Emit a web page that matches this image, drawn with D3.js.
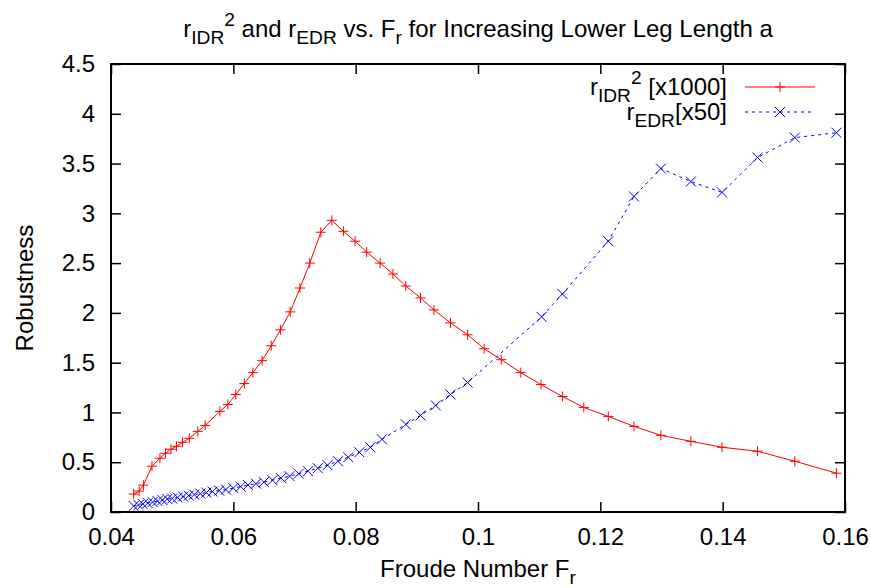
<!DOCTYPE html>
<html lang="en">
<head>
    <meta charset="UTF-8">
    <title>Robustness vs Froude Number</title>
    <script src="https://d3js.org/d3.v7.min.js"></script>
    <style>
        body { margin: 0; background: #fff; }
        text { font-family: "Liberation Sans", Arial, sans-serif; fill: #000; }
    </style>
</head>
<body>
    <div id="chart"></div>
    <script>
        // r_IDR^2 [x1000] series
        const idrF = [0.0437, 0.0446, 0.0453, 0.0467, 0.0480, 0.0489, 0.0498, 0.0507, 0.0517, 0.0528,
                      0.0542, 0.0554, 0.0578, 0.0591, 0.0604, 0.0618, 0.0632, 0.0647, 0.0662, 0.0677,
                      0.0693, 0.0709, 0.0725, 0.0743, 0.0761, 0.0780, 0.0799, 0.0818, 0.0840, 0.0861,
                      0.0882, 0.0906, 0.0928, 0.0955, 0.0983, 0.1010, 0.1038, 0.1070, 0.1103, 0.1138,
                      0.1173, 0.1213, 0.1255, 0.1299, 0.1348, 0.1399, 0.1457, 0.1518, 0.1586];
        const idrV = [0.18, 0.21, 0.27, 0.46, 0.54, 0.59, 0.63, 0.66, 0.70, 0.74,
                      0.81, 0.87, 1.01, 1.08, 1.18, 1.29, 1.40, 1.52, 1.67, 1.83,
                      2.01, 2.25, 2.50, 2.81, 2.93, 2.82, 2.72, 2.61, 2.50, 2.39,
                      2.27, 2.15, 2.03, 1.90, 1.78, 1.64, 1.53, 1.40, 1.28, 1.16,
                      1.05, 0.96, 0.86, 0.77, 0.71, 0.65, 0.61, 0.51, 0.39];

        // r_EDR [x50] series
        const edrF = [0.0437, 0.0445, 0.0452, 0.0460, 0.0468, 0.0476, 0.0484, 0.0492, 0.0500, 0.0509,
                      0.0518, 0.0527, 0.0536, 0.0546, 0.0556, 0.0566, 0.0577, 0.0588, 0.0600, 0.0612,
                      0.0624, 0.0637, 0.0650, 0.0664, 0.0678, 0.0692, 0.0707, 0.0722, 0.0738, 0.0754,
                      0.0771, 0.0788, 0.0806, 0.0824, 0.0843, 0.0882, 0.0906, 0.0931, 0.0955, 0.0983,
                      0.1104, 0.1138, 0.1213, 0.1255, 0.1299, 0.1348, 0.1399, 0.1457, 0.1518, 0.1586];
        const edrV = [0.06, 0.07, 0.08, 0.09, 0.10, 0.11, 0.12, 0.13, 0.135, 0.145,
                      0.155, 0.165, 0.175, 0.185, 0.195, 0.205, 0.215, 0.225, 0.24, 0.255,
                      0.27, 0.285, 0.30, 0.32, 0.34, 0.36, 0.385, 0.41, 0.44, 0.47,
                      0.51, 0.55, 0.60, 0.65, 0.73, 0.88, 0.97, 1.07, 1.18, 1.30,
                      1.96, 2.19, 2.72, 3.17, 3.45, 3.32, 3.21, 3.56, 3.76, 3.81];

        const xTicks = [0.04, 0.06, 0.08, 0.1, 0.12, 0.14, 0.16];
        const yTicks = [0, 0.5, 1, 1.5, 2, 2.5, 3, 3.5, 4, 4.5];

        const W = 871, H = 588;
        const margin = {top: 64, right: 26, bottom: 76, left: 111};
        const fs = 24;

        const svg = d3.select("#chart").append("svg")
            .attr("width", W).attr("height", H);

        const x = d3.scaleLinear().domain([0.04, 0.16]).range([margin.left, W - margin.right]);
        const y = d3.scaleLinear().domain([0, 4.5]).range([H - margin.bottom, margin.top]);

        // axes, ticks pointing inward
        const fmt = d => d3.format("")(+d.toFixed(2));
        svg.append("g").attr("transform", `translate(0,${y(0)})`)
            .call(d3.axisBottom(x).tickValues(xTicks).tickSize(-10).tickPadding(16).tickFormat(fmt));
        svg.append("g").attr("transform", `translate(${x(0.04)},0)`)
            .call(d3.axisLeft(y).tickValues(yTicks).tickSize(-10).tickPadding(16).tickFormat(fmt));
        svg.append("g").attr("transform", `translate(0,${y(4.5)})`)
            .call(d3.axisTop(x).tickValues(xTicks).tickSize(-10).tickFormat(""));
        svg.append("g").attr("transform", `translate(${x(0.16)},0)`)
            .call(d3.axisRight(y).tickValues(yTicks).tickSize(-10).tickFormat(""));

        svg.selectAll(".domain").remove();
        svg.selectAll(".tick line").attr("stroke", "#000").attr("stroke-width", 1.5);
        svg.selectAll(".tick text").attr("font-size", fs)
            .attr("font-family", "'Liberation Sans', Arial, sans-serif").attr("fill", "#000");

        // frame
        svg.append("rect")
            .attr("x", x(0.04)).attr("y", y(4.5))
            .attr("width", x(0.16) - x(0.04)).attr("height", y(0) - y(4.5))
            .attr("fill", "none").attr("stroke", "#000").attr("stroke-width", 2);

        // text with sub/superscripts
        function rich(sel, parts, size) {
            let off = 0;
            parts.forEach(([t, kind]) => {
                let target = kind === "sub" ? 0.3 * size : kind === "sup" ? -0.45 * size : 0;
                sel.append("tspan")
                    .attr("dy", target - off)
                    .attr("font-size", kind ? size * 0.8 : size)
                    .text(t);
                off = target;
            });
        }

        const title = svg.append("text")
            .attr("x", (x(0.04) + x(0.16)) / 2).attr("y", 37)
            .attr("text-anchor", "middle");
        rich(title, [["r"], ["IDR", "sub"], ["2", "sup"], [" and r"], ["EDR", "sub"], [" vs. F"], ["r", "sub"],
                     [" for Increasing Lower Leg Length a"]], fs);

        const xl = svg.append("text")
            .attr("x", (x(0.04) + x(0.16)) / 2).attr("y", 577)
            .attr("text-anchor", "middle");
        rich(xl, [["Froude Number F"], ["r", "sub"]], fs);

        svg.append("text")
            .attr("transform", `translate(33,${y(2.25)}) rotate(-90)`)
            .attr("text-anchor", "middle")
            .attr("font-size", fs)
            .text("Robustness");

        // lines
        const idr = idrF.map((f, i) => [f, idrV[i]]);
        const edr = edrF.map((f, i) => [f, edrV[i]]);
        const line = d3.line().x(d => x(d[0])).y(d => y(d[1]));

        svg.append("path").datum(idr).attr("d", line)
            .attr("fill", "none").attr("stroke", "#ff0000").attr("stroke-width", 1);
        svg.append("path").datum(edr).attr("d", line)
            .attr("fill", "none").attr("stroke", "#0000ff").attr("stroke-width", 1)
            .attr("stroke-dasharray", "3,4");

        const plus = (cx, cy, r) => `M${cx - r},${cy}h${2 * r}M${cx},${cy - r}v${2 * r}`;
        const cross = (cx, cy, r) => `M${cx - r},${cy - r}l${2 * r},${2 * r}M${cx - r},${cy + r}l${2 * r},${-2 * r}`;

        svg.append("path")
            .attr("d", idr.map(d => plus(x(d[0]), y(d[1]), 5)).join(""))
            .attr("fill", "none").attr("stroke", "#ff0000").attr("stroke-width", 1);
        svg.append("path")
            .attr("d", edr.map(d => cross(x(d[0]), y(d[1]), 5)).join(""))
            .attr("fill", "none").attr("stroke", "#0000ff").attr("stroke-width", 1);

        // legend
        const lx1 = 745, lx2 = 815, ly1 = 87, ly2 = 112;
        const l1 = svg.append("text").attr("x", 727).attr("y", ly1 + 8).attr("text-anchor", "end");
        rich(l1, [["r"], ["IDR", "sub"], ["2", "sup"], [" [x1000]"]], fs);
        const l2 = svg.append("text").attr("x", 727).attr("y", ly2 + 8).attr("text-anchor", "end");
        rich(l2, [["r"], ["EDR", "sub"], ["[x50]"]], fs);

        svg.append("line").attr("x1", lx1).attr("x2", lx2).attr("y1", ly1).attr("y2", ly1)
            .attr("stroke", "#ff0000").attr("stroke-width", 1);
        svg.append("path").attr("d", plus((lx1 + lx2) / 2, ly1, 5))
            .attr("stroke", "#ff0000").attr("stroke-width", 1);
        svg.append("line").attr("x1", lx1).attr("x2", lx2).attr("y1", ly2).attr("y2", ly2)
            .attr("stroke", "#0000ff").attr("stroke-width", 1).attr("stroke-dasharray", "3,4");
        svg.append("path").attr("d", cross((lx1 + lx2) / 2, ly2, 5))
            .attr("stroke", "#0000ff").attr("stroke-width", 1);
    </script>
</body>
</html>
